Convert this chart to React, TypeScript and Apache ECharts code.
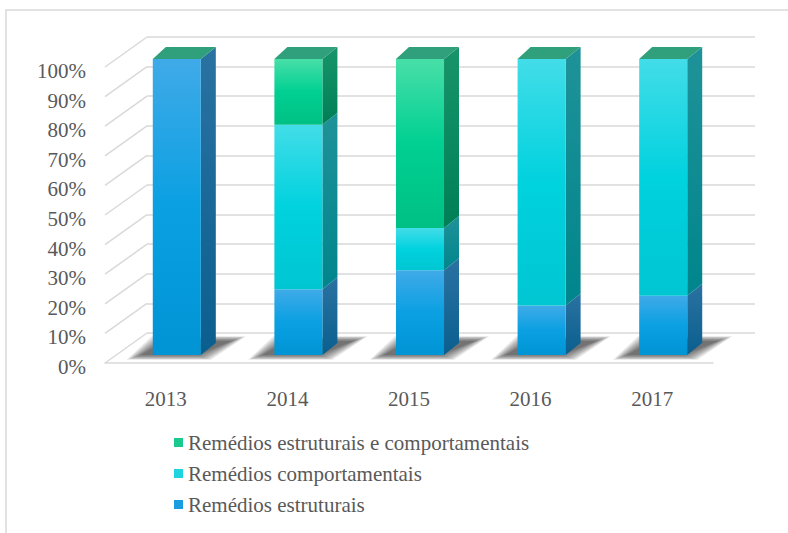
import React, { useEffect, useRef } from "react";
import * as echarts from "echarts";

const categories = ["2013", "2014", "2015", "2016", "2017"];
const estruturais = [100, 22.2, 28.6, 16.7, 20];
const comportamentais = [0, 55.6, 14.3, 83.3, 80];
const ambos = [0, 22.2, 57.1, 0, 0];
const gridTicks = [0, 10, 20, 30, 40, 50, 60, 70, 80, 90, 100];

const NAME_E = "Remédios estruturais";
const NAME_C = "Remédios comportamentais";
const NAME_A = "Remédios estruturais e comportamentais";

// projection constants (style)
const WALL_DX = 42;
const WALL_DY = -30;
const BAR_FX = 11;
const BAR_FY = -8;
const BAR_DX = 15;
const BAR_DY = -12;
const BAR_RATIO = 0.395;

const FONT = "Liberation Serif";
const TEXT = "#595959";
const LINE = "#d9d9d9";
const FS = 21;

function grad(stops: string[]) {
  return new echarts.graphic.LinearGradient(
    0, 0, 0, 1,
    stops.map((c, i) => ({ offset: i / (stops.length - 1), color: c }))
  );
}

const palettes: Record<string, { front: string[]; side: string[]; legend: string }> = {
  e: { front: ["#40aae8", "#0aa0e2", "#0094d4"], side: ["#2a72a2", "#0a5f8e"], legend: "#1a9ce0" },
  c: { front: ["#42dde8", "#00d2de", "#00c6d2"], side: ["#1f9299", "#00858c"], legend: "#1fd4e0" },
  a: { front: ["#48dfa8", "#00d092", "#00c084"], side: ["#17946a", "#007f56"], legend: "#19c98e" },
};

function segmentSeries(name: string, key: string, starts: number[], values: number[]) {
  const data = categories.map((_, i) => [i, starts[i], starts[i] + values[i]]);
  const pal = palettes[key];
  return {
    type: "custom",
    name,
    xAxisIndex: 0,
    yAxisIndex: 0,
    itemStyle: { color: pal.legend },
    z: 5,
    data,
    renderItem: (params: any, api: any) => {
      const cat = api.value(0);
      const s = api.value(1);
      const e = api.value(2);
      if (e - s <= 0) return { type: "group", children: [] };
      const pb = api.coord([cat, s]);
      const pt = api.coord([cat, e]);
      const hw = (api.size([1, 0])[0] * BAR_RATIO) / 2;
      const cx = pb[0] + BAR_FX;
      const xl = cx - hw;
      const xr = cx + hw;
      const yb = pb[1] + BAR_FY;
      const yt = pt[1] + BAR_FY;
      return {
        type: "group",
        children: [
          {
            type: "polygon",
            shape: { points: [[xr, yt], [xr + BAR_DX, yt + BAR_DY], [xr + BAR_DX, yb + BAR_DY], [xr, yb]] },
            style: { fill: grad(pal.side) },
          },
          {
            type: "rect",
            shape: { x: xl, y: yt, width: xr - xl, height: yb - yt },
            style: { fill: grad(pal.front) },
          },
        ],
      };
    },
  };
}

export default function App() {
  const ref = useRef<HTMLDivElement>(null);

  useEffect(() => {
    if (!ref.current) return;
    const chart = echarts.init(ref.current, null, { renderer: "svg" });

    const startC = estruturais.map((v) => v);
    const startA = estruturais.map((v, i) => v + comportamentais[i]);
    const totals = estruturais.map((v, i) => v + comportamentais[i] + ambos[i]);

    const labelStyle = { color: TEXT, fontSize: FS, fontFamily: FONT };

    const option: any = {
      animation: false,
      backgroundColor: "#ffffff",
      textStyle: { fontFamily: FONT },
      graphic: [
        {
          type: "rect",
          shape: { x: 6, y: 10, width: 900, height: 700 },
          style: { fill: "none", stroke: LINE, lineWidth: 1.5 },
          silent: true,
          z: -10,
        },
      ],
      grid: [
        { left: 105, right: 75, top: 67, bottom: 170 },
        { left: 147, right: 33, top: 37, bottom: 200 },
        { left: 105, right: 75, top: 71, bottom: 166 },
      ],
      xAxis: [
        {
          type: "category",
          gridIndex: 0,
          data: categories,
          axisLine: { show: true, lineStyle: { color: LINE, width: 1.5 } },
          axisTick: { show: false },
          axisLabel: { margin: 25, ...labelStyle },
          splitLine: { show: false },
        },
        { type: "category", gridIndex: 1, data: categories, show: false },
        { type: "category", gridIndex: 2, data: categories, show: false },
      ],
      yAxis: [
        {
          type: "value",
          gridIndex: 0,
          min: 0,
          max: 100,
          interval: 10,
          axisLine: { show: false },
          axisTick: { show: false },
          splitLine: { show: false },
          axisLabel: { show: false },
        },
        {
          type: "value",
          gridIndex: 1,
          min: 0,
          max: 100,
          interval: 10,
          axisLine: { show: false },
          axisTick: { show: false },
          axisLabel: { show: false },
          splitLine: { show: true, lineStyle: { color: LINE, width: 1.5 } },
        },
        {
          type: "value",
          gridIndex: 2,
          min: 0,
          max: 100,
          interval: 10,
          axisLine: { show: false },
          axisTick: { show: false },
          splitLine: { show: false },
          axisLabel: { formatter: "{value}%", margin: 19, ...labelStyle },
        },
      ],
      legend: {
        orient: "vertical",
        left: 169,
        top: 427,
        itemWidth: 9,
        itemHeight: 9,
        itemGap: 10,
        icon: "rect",
        data: [NAME_A, NAME_C, NAME_E],
        textStyle: { ...labelStyle },
      },
      series: [
        {
          type: "custom",
          name: "walls",
          xAxisIndex: 0,
          yAxisIndex: 0,
          silent: true,
          z: 1,
          data: gridTicks.map((v) => [0, v]),
          renderItem: (params: any, api: any) => {
            const p = api.coord([0, api.value(1)]);
            const x0 = params.coordSys.x;
            return {
              type: "line",
              shape: { x1: x0, y1: p[1], x2: x0 + WALL_DX, y2: p[1] + WALL_DY },
              style: { stroke: LINE, lineWidth: 1.5 },
            };
          },
        },
        {
          type: "custom",
          name: "shadows",
          xAxisIndex: 0,
          yAxisIndex: 0,
          silent: true,
          z: 2,
          data: categories.map((_, i) => [i, 0]),
          renderItem: (params: any, api: any) => {
            const pb = api.coord([api.value(0), 0]);
            const hw = (api.size([1, 0])[0] * BAR_RATIO) / 2;
            const cx = pb[0] + BAR_FX;
            const xl = cx - hw;
            const xr = cx + hw;
            const yb = pb[1] + BAR_FY;
            const layers = [];
            for (let k = 0; k < 8; k++) {
              const g = 8 - k * 2;
              layers.push({
                type: "polygon",
                shape: {
                  points: [
                    [xl - 18 - g, yb + 2 + g * 0.35],
                    [xr + 2 + g, yb + 2 + g * 0.35],
                    [xr + BAR_DX + 22 + g, yb + BAR_DY - 4 - g * 0.35],
                    [xl + BAR_DX - 8 - g, yb + BAR_DY - 4 - g * 0.35],
                  ],
                },
                style: { fill: "rgba(30,30,30,0.11)" },
              });
            }
            return { type: "group", children: layers };
          },
        },
        segmentSeries(NAME_E, "e", estruturais.map(() => 0), estruturais),
        segmentSeries(NAME_C, "c", startC, comportamentais),
        segmentSeries(NAME_A, "a", startA, ambos),
        {
          type: "custom",
          name: "tops",
          xAxisIndex: 0,
          yAxisIndex: 0,
          silent: true,
          z: 6,
          data: categories.map((_, i) => [i, totals[i]]),
          renderItem: (params: any, api: any) => {
            const pt = api.coord([api.value(0), api.value(1)]);
            const hw = (api.size([1, 0])[0] * BAR_RATIO) / 2;
            const cx = pt[0] + BAR_FX;
            const xl = cx - hw;
            const xr = cx + hw;
            const yt = pt[1] + BAR_FY;
            return {
              type: "polygon",
              shape: { points: [[xl, yt], [xl + BAR_DX - 2, yt + BAR_DY], [xr + BAR_DX, yt + BAR_DY], [xr, yt]] },
              style: { fill: "#2fa07b" },
            };
          },
        },
      ],
    };

    chart.setOption(option);
    return () => chart.dispose();
  }, []);

  return (
    <div
      ref={ref}
      style={{ position: "fixed", left: 0, top: 0, width: 788, height: 533, background: "#fff" }}
    />
  );
}
